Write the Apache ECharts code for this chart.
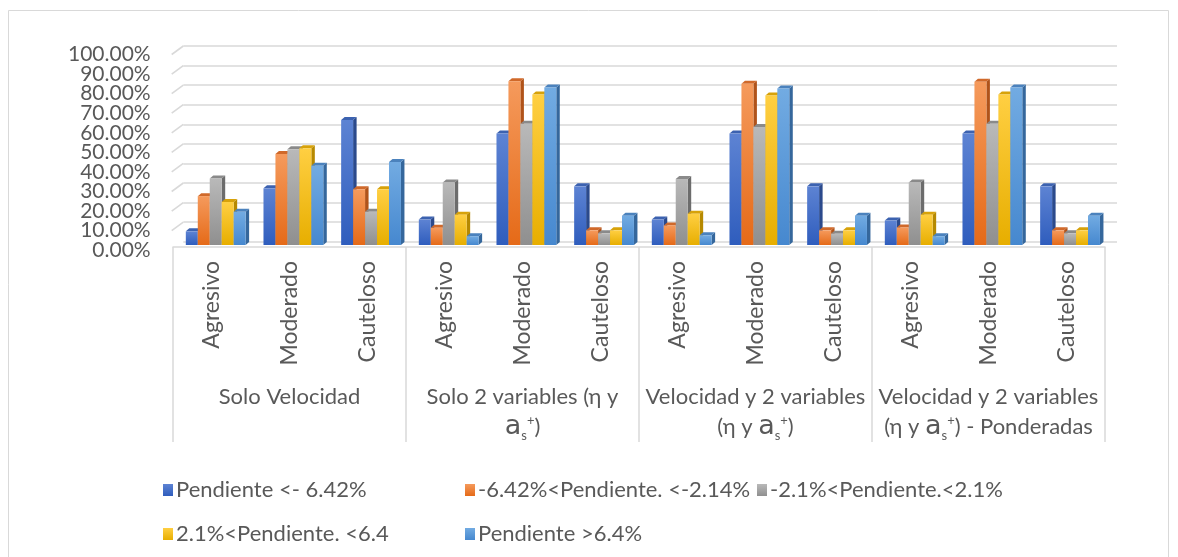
<!DOCTYPE html>
<html>
<head>
<meta charset="utf-8">
<title>Pendiente por estilo de conducción</title>
<script src="https://cdn.jsdelivr.net/npm/echarts@6/dist/echarts.min.js"></script>
<style>
  html, body { margin: 0; padding: 0; background: #ffffff; }
  #chart { width: 1178px; height: 557px; }
</style>
</head>
<body>
<div id="chart"></div>
<script>
// Grupos de métodos y estilos de conducción (eje de categorías jerárquico)
const groups = [
  'Solo Velocidad',
  'Solo 2 variables (η y\naₛ⁺)',
  'Velocidad y 2 variables\n(η y aₛ⁺)',
  'Velocidad y 2 variables\n(η y aₛ⁺) - Ponderadas'
];
const styles = ['Agresivo', 'Moderado', 'Cauteloso'];

// Nombres de las series (rangos de pendiente)
const seriesNames = [
  'Pendiente <- 6.42%',
  '-6.42%<Pendiente. <-2.14%',
  '-2.1%<Pendiente.<2.1%',
  '2.1%<Pendiente. <6.4',
  'Pendiente >6.4%'
];

// Porcentajes por grupo (Agresivo, Moderado, Cauteloso) x 4 grupos
const pendienteMenos642 = [7, 29, 64,   13, 57, 30,   13, 57, 30,   12.5, 57, 30];
const pendienteMenos642a214 = [25, 46.5, 28.5,   8.8, 83.7, 7.5,   10, 82.5, 7.5,   9, 83.5, 7.5];
const pendienteMenos21a21 = [34, 49, 17,   32, 62, 6,   33.8, 60.4, 5.8,   32, 62, 6];
const pendiente21a64 = [22, 49.5, 28.5,   15.5, 77, 7.5,   16, 76.5, 7.5,   15.5, 77, 7.5];
const pendienteMas64 = [17, 40.5, 42.5,   4.5, 80.5, 15,   5, 80, 15,   4.5, 80.5, 15];

// Ticks del eje de valores
const yTicks = [0, 10, 20, 30, 40, 50, 60, 70, 80, 90, 100];

const seriesValues = [pendienteMenos642, pendienteMenos642a214, pendienteMenos21a21, pendiente21a64, pendienteMas64];

// Colores: cara frontal (claro -> base), cara lateral y tapa
const palette = [
  { top: '#5d83d3', bottom: '#2f5dbd', side: '#2b4a8c', cap: '#3c62b0' },
  { top: '#f59a5c', bottom: '#e56a18', side: '#b0531a', cap: '#d0692a' },
  { top: '#b9b9b9', bottom: '#8f8f8f', side: '#6c6c6c', cap: '#8a8a8a' },
  { top: '#ffcf42', bottom: '#e7ae00', side: '#b68900', cap: '#d7a20a' },
  { top: '#72abe2', bottom: '#4688cf', side: '#35679c', cap: '#4b82bd' }
];

const textColor = '#595959';
const fontFamily = 'Lato, "Liberation Sans", sans-serif';

// Categorías completas del eje inferior (12 columnas)
const xCategories = [];
groups.forEach(() => styles.forEach(s => xCategories.push(s)));

function grad(c) {
  return new echarts.graphic.LinearGradient(0, 0, 0, 1, [
    { offset: 0, color: c.top },
    { offset: 1, color: c.bottom }
  ]);
}

// Columna con aspecto 3D: cara frontal, lateral derecha y tapa superior
function makeBarRenderer(si) {
  const c = palette[si];
  return function (params, api) {
    const cat = api.value(0);
    const val = api.value(1);
    const base = api.coord([cat, 0]);
    const top = api.coord([cat, val]);
    const bw = api.size([1, 0])[0];
    const pitch = bw * 0.154;
    const left = base[0] - 2.5 * pitch + si * pitch + bw * 0.05;
    const w = pitch;
    const dx = 3.5, dy = 3;
    const h = base[1] - top[1];
    return {
      type: 'group',
      children: [
        {
          type: 'polygon',
          shape: { points: [[left + w, top[1]], [left + w + dx, top[1] - dy], [left + w + dx, base[1] - dy], [left + w, base[1]]] },
          style: { fill: c.side }
        },
        {
          type: 'polygon',
          shape: { points: [[left, top[1]], [left + dx, top[1] - dy], [left + w + dx, top[1] - dy], [left + w, top[1]]] },
          style: { fill: c.cap }
        },
        {
          type: 'rect',
          shape: { x: left, y: top[1], width: w, height: h },
          style: { fill: grad(c) }
        }
      ]
    };
  };
}

// Segmentos inclinados de las líneas de división (pared lateral)
function slantRenderer(params, api) {
  const p = api.coord([0, api.value(1)]);
  return {
    type: 'line',
    shape: { x1: p[0] - 11.6, y1: p[1] + 8.5, x2: p[0], y2: p[1] },
    style: { stroke: '#d9d9d9', lineWidth: 1.6 }
  };
}

const richLabel = {
  a: { fontSize: 27, fontFamily: '"DejaVu Sans", sans-serif', color: textColor, lineHeight: 30 },
  sub: { fontSize: 13, fontFamily: fontFamily, color: textColor, lineHeight: 30, verticalAlign: 'bottom' },
  sup: { fontSize: 13, fontFamily: fontFamily, color: textColor, lineHeight: 30, verticalAlign: 'top', padding: [2, 0, 0, 0] }
};

const chart = echarts.init(document.getElementById('chart'));

const series = seriesValues.map((vals, si) => ({
  name: seriesNames[si],
  type: 'custom',
  xAxisIndex: 0,
  yAxisIndex: 0,
  renderItem: makeBarRenderer(si),
  itemStyle: { color: grad(palette[si]) },
  encode: { x: 0, y: 1 },
  data: vals.map((v, i) => [i, v]),
  z: 3
}));

series.push({
  type: 'custom',
  xAxisIndex: 2,
  yAxisIndex: 1,
  renderItem: slantRenderer,
  data: yTicks.filter(v => v > 0).map(v => [0, v]),
  silent: true,
  z: 1
});

// Posiciones de la leyenda (dos filas)
const legendPos = [
  { left: 158, top: 474 },
  { left: 460, top: 474 },
  { left: 752, top: 474 },
  { left: 158, top: 518 },
  { left: 460, top: 518 }
];

const legends = seriesNames.map((n, i) => ({
  data: [n],
  left: legendPos[i].left,
  top: legendPos[i].top,
  orient: 'horizontal',
  itemWidth: 10,
  itemHeight: 12,
  itemGap: 0,
  icon: 'rect',
  selectedMode: false,
  textStyle: { color: textColor, fontSize: 22, fontFamily: fontFamily, padding: [0, 0, 0, -2] }
}));

// Etiquetas del eje de valores: se reparten en dos ejes (pares e impares)
// para que ninguna se oculte por solapamiento
const yLabelStyle = {
  margin: 21,
  color: textColor,
  fontSize: 21,
  fontFamily: fontFamily,
  showMinLabel: true,
  showMaxLabel: true,
  formatter: v => (v >= 0 && v <= 100 && yTicks.indexOf(v) >= 0) ? v.toFixed(2) + '%' : ''
};
const frontTop = 54.5;
const frontHeight = 195.7;
const step = frontHeight / 10;

chart.setOption({
  animation: false,
  backgroundColor: '#ffffff',
  graphic: [{
    type: 'rect',
    shape: { x: 8.5, y: 10.5, width: 1160, height: 560 },
    style: { fill: 'none', stroke: '#d9d9d9', lineWidth: 1 },
    silent: true
  }],
  legend: legends,
  grid: [
    // plano de las columnas
    { left: 173, right: 73, top: 49.5, height: 195.5 },
    // pared del fondo (líneas de división)
    { left: 183.3, right: 61, top: 46, height: 195.7 },
    // plano frontal: etiquetas 0, 20, ..., 100
    { left: 171.7, right: 73, top: frontTop, height: frontHeight },
    // plano frontal: etiquetas 10, 30, ..., 90 (escala extendida -10..110)
    { left: 171.7, right: 73, top: frontTop - step, height: frontHeight + 2 * step }
  ],
  xAxis: [
    {
      type: 'category',
      gridIndex: 0,
      data: xCategories,
      axisLine: { show: false },
      axisTick: { show: false },
      axisLabel: {
        rotate: 90,
        interval: 0,
        margin: 16,
        color: textColor,
        fontSize: 23,
        fontFamily: fontFamily
      }
    },
    {
      type: 'category',
      gridIndex: 0,
      position: 'bottom',
      offset: 2,
      data: groups,
      axisLine: { show: true, lineStyle: { color: '#d9d9d9', width: 1.5 } },
      axisTick: { show: true, length: 195, lineStyle: { color: '#d9d9d9', width: 1.5 } },
      axisLabel: {
        interval: 0,
        margin: 135,
        color: textColor,
        fontSize: 22,
        fontFamily: fontFamily,
        lineHeight: 30,
        rich: richLabel,
        formatter: v => v.replace('aₛ⁺', '{a|a}{sub|s}{sup|+}')
      }
    },
    { type: 'value', gridIndex: 1, min: 0, max: 1, show: false },
    { type: 'value', gridIndex: 2, min: 0, max: 1, show: false },
    { type: 'value', gridIndex: 3, min: 0, max: 1, show: false }
  ],
  yAxis: [
    {
      type: 'value',
      gridIndex: 0,
      min: 0,
      max: 100,
      interval: 10,
      show: false
    },
    {
      type: 'value',
      gridIndex: 1,
      min: 0,
      max: 100,
      interval: 10,
      axisLine: { show: false },
      axisTick: { show: false },
      axisLabel: { show: false },
      splitLine: { show: true, lineStyle: { color: '#d9d9d9', width: 1.6 } }
    },
    {
      type: 'value',
      gridIndex: 2,
      min: 0,
      max: 100,
      interval: 20,
      axisLine: { show: false },
      axisTick: { show: false },
      splitLine: { show: false },
      axisLabel: yLabelStyle
    },
    {
      type: 'value',
      gridIndex: 3,
      min: -10,
      max: 110,
      interval: 20,
      axisLine: { show: false },
      axisTick: { show: false },
      splitLine: { show: false },
      axisLabel: yLabelStyle
    }
  ],
  series: series
});
</script>
</body>
</html>
